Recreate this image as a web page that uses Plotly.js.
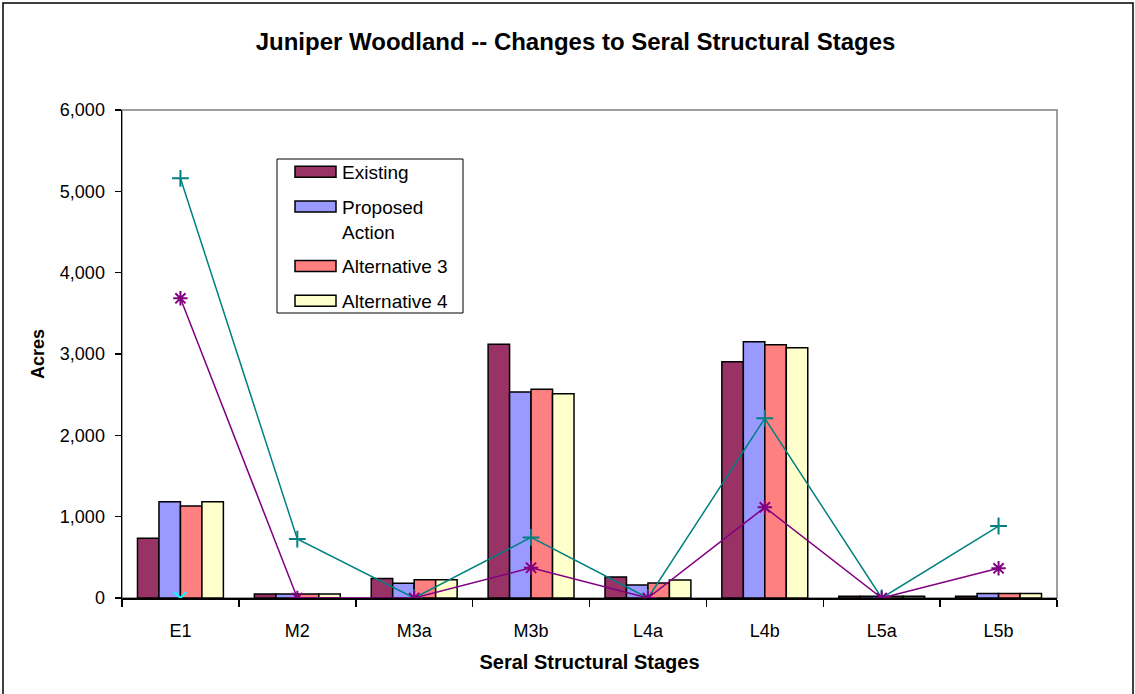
<!DOCTYPE html>
<html>
<head>
<meta charset="utf-8">
<script src="https://cdn.plot.ly/plotly-3.0.1.min.js"></script>
<style>
html,body{margin:0;padding:0;background:#fff;}
#chart{width:1135px;height:694px;}
</style>
</head>
<body>
<div id="chart"></div>
<script>
// ---- data ----
var categories = ['E1', 'M2', 'M3a', 'M3b', 'L4a', 'L4b', 'L5a', 'L5b'];
var existing    = [735, 50, 240, 3120, 258, 2906, 20, 20];
var proposed    = [1184, 50, 180, 2533, 160, 3152, 20, 55];
var alternative3 = [1131, 50, 225, 2566, 184, 3115, 20, 55];
var alternative4 = [1184, 50, 225, 2512, 221, 3078, 20, 55];
var lineTeal    = [5160, 725, 0, 745, 0, 2209, 0, 885];
var linePurple  = [3685, 0, 0, 372, 0, 1115, 0, 365];
var lineCyan    = [0, null, null, null, null, null, null, null];
var seriesNames = ['Existing', 'Proposed<br>Action', 'Alternative 3', 'Alternative 4'];
var yTickVals = [0, 1000, 2000, 3000, 4000, 5000, 6000];

var FONT = 'Liberation Sans, Arial, sans-serif';
var barColors = ['#993366', '#9999FF', '#FF8080', '#FFFFCC'];
var barData = [existing, proposed, alternative3, alternative4];

var traces = barData.map(function (vals, i) {
  return {
    type: 'bar', x: categories, y: vals, name: seriesNames[i],
    legendgroup: 'g' + i,
    marker: {color: barColors[i], line: {color: '#000', width: 1.5}},
    hoverinfo: 'x+y+name'
  };
});

traces.push({
  type: 'scatter', mode: 'lines+markers', x: categories, y: lineTeal,
  showlegend: false, line: {color: '#008080', width: 1.5},
  marker: {symbol: 'cross-thin-open', size: 12, color: '#008080', line: {color: '#008080', width: 2}}
});
traces.push({
  type: 'scatter', mode: 'lines+markers', x: categories, y: linePurple,
  showlegend: false, line: {color: '#800080', width: 1.5},
  marker: {symbol: 'asterisk-open', size: 12, color: '#800080', line: {color: '#800080', width: 2}}
});
traces.push({
  type: 'scatter', mode: 'markers', x: categories, y: lineCyan,
  showlegend: false,
  marker: {symbol: 'x-thin-open', size: 12, color: '#00FFFF', line: {color: '#00FFFF', width: 2}}
});

var L = 122, R = 78, T = 110, B = 96, W = 1135, H = 694;
var pw = W - L - R, ph = H - T - B;
function px(x) { return (x - L) / pw; }
function py(y) { return (H - B - y) / ph; }

var layout = {
  width: W, height: H,
  margin: {l: L, r: R, t: T, b: B, pad: 0},
  paper_bgcolor: '#fff', plot_bgcolor: '#fff',
  font: {family: FONT, color: '#000', size: 18},
  title: {
    text: '<b>Juniper Woodland -- Changes to Seral Structural Stages</b>',
    font: {family: FONT, size: 24, color: '#000'},
    xref: 'container', x: 575.5 / W, xanchor: 'center',
    yref: 'container', y: 1 - 42 / H, yanchor: 'middle'
  },
  barmode: 'group', bargap: 0.265, bargroupgap: 0,
  xaxis: {
    type: 'category', showgrid: false, zeroline: false,
    showline: true, linecolor: '#000', linewidth: 1.5,
    ticks: 'outside', tickson: 'boundaries', ticklen: 7, tickwidth: 1.5, tickcolor: '#000',
    tickfont: {family: FONT, size: 18},
    ticklabelstandoff: 16,
    title: {text: '<b>Seral Structural Stages</b>', font: {family: FONT, size: 20}, standoff: 15}
  },
  yaxis: {
    range: [0, 6000], tickvals: yTickVals, tickformat: ',d',
    showgrid: false, zeroline: false,
    showline: true, linecolor: '#000', linewidth: 1.5,
    ticks: 'outside', ticklen: 6, tickwidth: 1.5, tickcolor: '#000',
    tickfont: {family: FONT, size: 18},
    ticklabelstandoff: 6,
    title: {text: '<b>Acres</b>', font: {family: FONT, size: 18}, standoff: 10}
  },
  legend: {
    x: px(277), xanchor: 'left', y: py(153), yanchor: 'top',
    borderwidth: 0, bgcolor: 'rgba(0,0,0,0)',
    font: {family: FONT, size: 19, color: '#000'},
    traceorder: 'grouped', tracegroupgap: 7, valign: 'top',
    itemwidth: 55
  },
  shapes: [
    {type: 'rect', xref: 'paper', yref: 'paper', x0: 0, x1: 1, y0: 0, y1: 1,
     line: {color: '#808080', width: 1.5}, layer: 'below'},
    {type: 'rect', xref: 'paper', yref: 'paper', x0: px(3), x1: px(1133), y0: py(710), y1: py(3),
     line: {color: '#000', width: 1.5}, layer: 'below'},
    // legend frame
    {type: 'rect', xref: 'paper', yref: 'paper', x0: px(277), x1: px(463), y0: py(313), y1: py(159),
     line: {color: '#000', width: 1}, fillcolor: '#fff', layer: 'above'}
  ],
  showlegend: true
};

Plotly.newPlot('chart', traces, layout, {displayModeBar: false, staticPlot: true}).then(function (gd) {
  // widen the legend swatches to the long flat bars of the reference
  var paths = gd.querySelectorAll('.legend .legendpoints path');
  paths.forEach(function (p) {
    p.setAttribute('d', 'M-14.5,-5.5H26.5V5.5H-14.5Z');
  });
});
</script>
</body>
</html>
